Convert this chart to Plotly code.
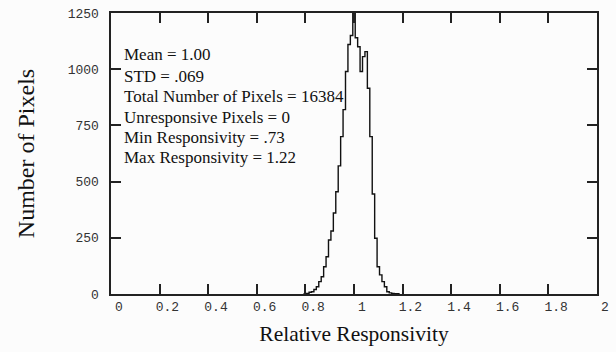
import plotly.graph_objects as go

# Histogram data (bin centers, bin width 0.01)
bin_centers = [0.80, 0.81, 0.82, 0.83, 0.84, 0.85, 0.86, 0.87, 0.88, 0.89,
               0.90, 0.91, 0.92, 0.93, 0.94, 0.95, 0.96, 0.97, 0.98, 0.99,
               1.00, 1.01, 1.02, 1.03, 1.04, 1.05, 1.06, 1.07, 1.08, 1.09,
               1.10, 1.11, 1.12, 1.13, 1.14, 1.15, 1.16, 1.17, 1.18]
counts = [1, 3, 8, 10, 20, 32, 55, 77, 121, 166,
          240, 280, 360, 455, 570, 700, 820, 990, 1110, 1150,
          1265, 1140, 1100, 990, 1056, 1078, 915, 700, 445, 248,
          121, 85, 55, 32, 10, 5, 2, 1, 1]
bin_width = 0.01

x_tickvals = [0, 0.2, 0.4, 0.6, 0.8, 1.0, 1.2, 1.4, 1.6, 1.8, 2.0]
x_ticktext = ["0", "0.2", "0.4", "0.6", "0.8", "1", "1.2", "1.4", "1.6", "1.8", "2"]
y_tickvals = [0, 250, 500, 750, 1000, 1250]
y_ticktext = ["0", "250", "500", "750", "1000", "1250"]

stats_lines = [
    "Mean = 1.00",
    "STD = .069",
    "Total Number of Pixels = 16384",
    "Unresponsive Pixels = 0",
    "Min Responsivity = .73",
    "Max Responsivity = 1.22",
]

# Build step outline from bins
xs = [bin_centers[0] - bin_width / 2]
ys = [0]
for c, n in zip(bin_centers, counts):
    xs.append(c - bin_width / 2)
    ys.append(n)
xs.append(bin_centers[-1] + bin_width / 2)
ys.append(counts[-1])
xs.append(bin_centers[-1] + bin_width / 2)
ys.append(0)

fig = go.Figure()
fig.add_trace(go.Scatter(x=xs, y=ys, mode="lines", line=dict(color="#111111", width=1.4, shape="hv"),
                         hoverinfo="skip", showlegend=False))

axis_color = "#222222"
tick_font = dict(family="Liberation Mono, DejaVu Sans Mono, monospace", size=13, color="#333333")
serif = "Liberation Serif, Times New Roman, serif"
nb = "\u00a0"

fig.update_xaxes(range=[0, 2], tickmode="array", tickvals=x_tickvals,
                 ticktext=[nb + nb + t for t in x_ticktext],
                 ticks="inside", ticklen=10, tickwidth=1.5, tickcolor=axis_color,
                 showline=True, linecolor=axis_color, linewidth=1.5,
                 mirror="ticks", showgrid=False, zeroline=False, tickfont=tick_font, automargin=False,
                 title=dict(text="Relative Responsivity", font=dict(family=serif, size=21.5, color="#111111"),
                            standoff=12))
fig.update_yaxes(range=[0, 1250], tickmode="array", tickvals=y_tickvals,
                 ticktext=[t + nb for t in y_ticktext], ticks="inside", ticklen=10,
                 tickwidth=1.5, tickcolor=axis_color, showline=True, linecolor=axis_color, linewidth=1.5,
                 mirror="ticks", showgrid=False, zeroline=False, tickfont=tick_font, automargin=False,
                 title=dict(text="Number of Pixels", font=dict(family=serif, size=24, color="#111111"),
                            standoff=26))

plot_top, plot_bottom = 13, 294
line_px = [55, 76, 96.5, 117, 137, 157]
for text, py in zip(stats_lines, line_px):
    fig.add_annotation(text=text, xref="paper", yref="paper", x=(122 - 111) / 486,
                       y=(plot_bottom - py) / (plot_bottom - plot_top),
                       xanchor="left", yanchor="middle", showarrow=False,
                       font=dict(family=serif, size=17, color="#111111"))

fig.update_layout(width=616, height=352, margin=dict(l=111, r=19, t=13, b=58),
                  plot_bgcolor="#fcfcfc", paper_bgcolor="#fcfcfc")

fig.write_html("out.html")
